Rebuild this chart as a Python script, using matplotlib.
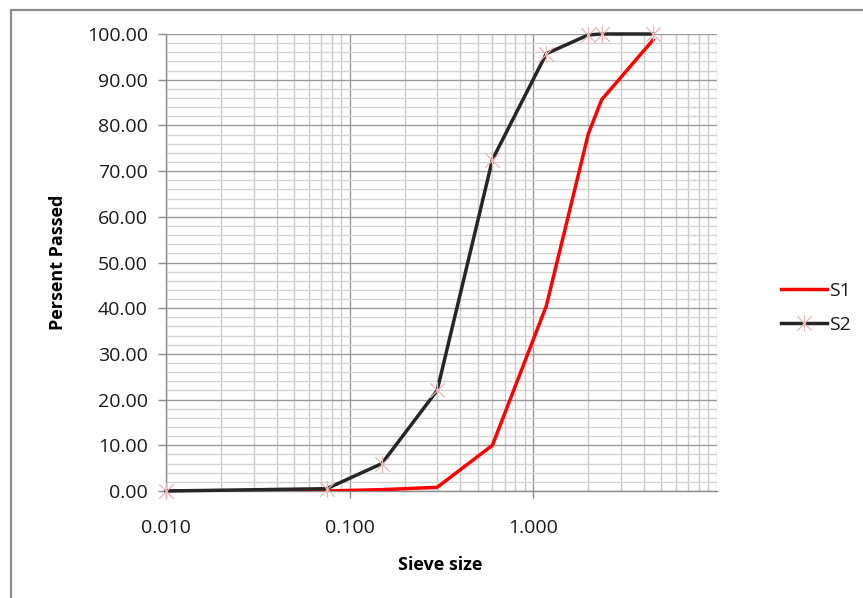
import matplotlib
matplotlib.use("Agg")
import matplotlib.pyplot as plt
from matplotlib.path import Path
from matplotlib.patches import Rectangle
from matplotlib.ticker import FixedLocator, NullFormatter

plt.rcParams['font.family'] = ['Open Sans', 'DejaVu Sans']

sieve = [0.01, 0.075, 0.15, 0.3, 0.6, 1.18, 2.0, 2.36, 4.5]
s1 = [0.0, 0.0, 0.3, 0.8, 10.0, 40.5, 78.2, 85.6, 98.7]
s2 = [0.0, 0.5, 6.0, 22.0, 72.5, 95.7, 99.8, 100.0, 100.0]
series_names = ['S1', 'S2']
x_ticks = [0.01, 0.1, 1.0]
y_ticks = list(range(0, 101, 10))

FS = 13
TFS = 14

W, H = 863, 598
fig = plt.figure(figsize=(W / 100, H / 100), dpi=100)
fig.patch.set_facecolor('white')
L, R, T, B = 166, 716.7, 34, 491
ax = fig.add_axes([L / W, 1 - B / H, (R - L) / W, (B - T) / H])

# outer border
fig.patches.append(Rectangle((11 / W, -0.2), 1.2, 1 - 10 / H + 0.2,
                             transform=fig.transFigure, fill=False,
                             edgecolor='#8c8c8c', linewidth=1.6, zorder=0))

star = Path([(-1, -1), (1, 1), (-1, 1), (1, -1), (0, -1.15), (0, 1.15)],
            [Path.MOVETO, Path.LINETO, Path.MOVETO, Path.LINETO, Path.MOVETO, Path.LINETO])

ax.plot(sieve, s1, color='#ff0000', linewidth=2.5, label=series_names[0],
        solid_joinstyle='miter', zorder=3)
ax.plot(sieve, s2, color='#262626', linewidth=2.5, label=series_names[1],
        marker=star, markersize=12, markeredgecolor='#e6b8b7', markerfacecolor='none',
        markeredgewidth=0.9, zorder=4, clip_on=False)

ax.set_xscale('log')
ax.set_xlim(0.01, 10)
ax.set_ylim(0, 100)

ax.xaxis.set_major_locator(FixedLocator(x_ticks))
ax.set_xticklabels(['%.3f' % v for v in x_ticks])
minor_x = [m * 10.0 ** e for e in (-2, -1, 0) for m in range(2, 10)]
ax.xaxis.set_minor_locator(FixedLocator(minor_x))
ax.xaxis.set_minor_formatter(NullFormatter())
ax.set_yticks(y_ticks)
ax.set_yticklabels(['%.2f' % v for v in y_ticks])
ax.yaxis.set_minor_locator(FixedLocator([v for v in range(0, 101, 2) if v % 10]))

ax.set_axisbelow(True)
ax.grid(which='major', axis='y', color='#9a9a9a', linewidth=1.0)
ax.grid(which='minor', axis='y', color='#d3d3d3', linewidth=1.0)
ax.grid(which='major', axis='x', color='#9a9a9a', linewidth=1.0)
ax.grid(which='minor', axis='x', color='#cbcbcb', linewidth=1.0)
ax.axvline(10, color='#b0b0b0', linewidth=1.0, zorder=0)

for s in ('top', 'right'):
    ax.spines[s].set_visible(False)
for s in ('left', 'bottom'):
    ax.spines[s].set_color('#8c8c8c')
    ax.spines[s].set_linewidth(1.0)

ax.tick_params(axis='y', which='major', length=6, width=1, color='#8c8c8c',
               pad=7, labelsize=TFS, labelcolor='#1a1a1a')
ax.tick_params(axis='x', which='major', length=5, width=1, color='#8c8c8c',
               pad=15, labelsize=TFS, labelcolor='#1a1a1a')
ax.tick_params(which='minor', length=0)

ax.set_xlabel('Sieve size', fontsize=FS, fontweight='bold')
ax.set_ylabel('Persent Passed', fontsize=FS, fontweight='bold')
ax.xaxis.set_label_coords((440 - L) / (R - L), -(556 - B) / (B - T))
ax.yaxis.set_label_coords(-(L - 67) / (R - L), (B - 262.5) / (B - T))

leg = ax.legend(loc='center left', bbox_to_anchor=(771 / W, 1 - 308 / H),
                bbox_transform=fig.transFigure, frameon=False, fontsize=TFS,
                handlelength=2.4, handletextpad=0.1, labelspacing=0.8,
                borderpad=0)
for t in leg.get_texts():
    t.set_color('#1a1a1a')

fig.savefig('out.png', dpi=100, facecolor='white')
